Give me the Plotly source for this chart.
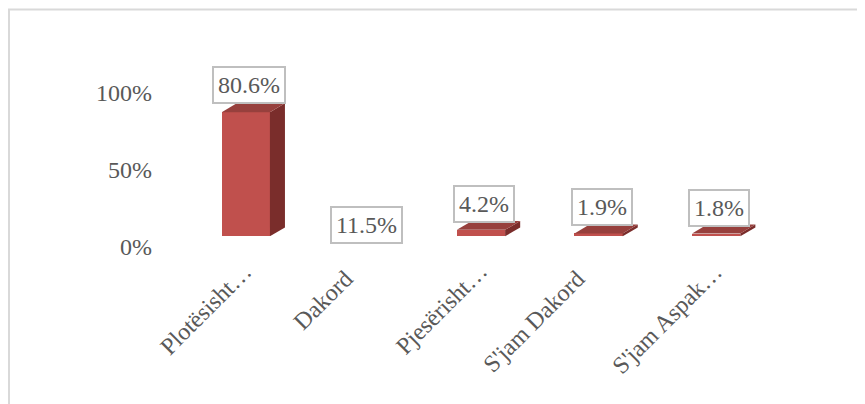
import plotly.graph_objects as go

# data
categories = ["Plotësisht…", "Dakord", "Pjesërisht…", "S'jam Dakord", "S'jam Aspak…"]
shares = [0.806, 0.115, 0.042, 0.019, 0.018]
y_ticks = [0, 0.5, 1.0]

# styling for the fake 3D look
FRONT = "#C0504D"
SIDE = "#7A2D2B"
TOP = "#97403D"
TEXT = "#595959"
FONT = "Liberation Serif"
BAR_W = 0.41
DX, DY = 0.128, 0.058  # depth offset in data units
label_yshift = [8, -25, 7, 7, 7]
# category labels: shift of the rotated label's top-right corner
cat_xshift = [12, -4, 12, -7, 12]
cat_yshift = [-13, -20, -13, -20, -13]

xs = list(range(len(categories)))

fig = go.Figure()
fig.add_trace(go.Bar(x=xs, y=shares, width=BAR_W, marker=dict(color=FRONT, line=dict(width=0)),
                     showlegend=False, hoverinfo="skip"))

for x, v in zip(xs, shares):
    x0, x1 = x - BAR_W / 2, x + BAR_W / 2
    # right side face
    fig.add_trace(go.Scatter(
        x=[x1, x1, x1 + DX, x1 + DX, x1], y=[0, v, v + DY, DY, 0],
        fill="toself", fillcolor=SIDE, mode="lines", line=dict(width=0),
        showlegend=False, hoverinfo="skip"))
    # top face
    fig.add_trace(go.Scatter(
        x=[x0, x1, x1 + DX, x0 + DX, x0], y=[v, v, v + DY, v + DY, v],
        fill="toself", fillcolor=TOP, mode="lines", line=dict(width=0),
        showlegend=False, hoverinfo="skip"))

for x, v, ys in zip(xs, shares, label_yshift):
    fig.add_annotation(
        x=x, y=v, text=f"{v:.1%}", showarrow=False, yanchor="bottom",
        xshift=3, yshift=ys, bgcolor="white", bordercolor="#BFBFBF",
        borderwidth=2, borderpad=4, font=dict(family=FONT, size=24, color=TEXT))

for x, name, dxs, dys in zip(xs, categories, cat_xshift, cat_yshift):
    fig.add_annotation(
        x=x, xref="x", y=0, yref="paper", text=name, textangle=-45, showarrow=False,
        xanchor="right", yanchor="top", xshift=dxs, yshift=dys, borderpad=0,
        font=dict(family=FONT, size=24, color=TEXT))

# outer chart border (top and left visible in the reference)
fig.add_shape(type="rect", xref="paper", yref="paper", x0=-0.3027, x1=1.3, y0=-1.2, y1=1.325,
              line=dict(color="#D9D9D9", width=2), fillcolor="rgba(0,0,0,0)", layer="below")

# page body adds an 8px margin, so the figure is 8px smaller than the window
fig.update_layout(
    width=857, height=396,
    margin=dict(l=179, r=90, t=59, b=160),
    paper_bgcolor="white", plot_bgcolor="white",
    font=dict(family=FONT, size=24, color=TEXT),
    bargap=0,
    xaxis=dict(range=[-0.5, 4.5], showticklabels=False,
               showgrid=False, zeroline=False, showline=False, ticks=""),
    yaxis=dict(range=[-0.05, 1.1], tickvals=y_ticks, tickformat=".0%", showgrid=False,
               zeroline=False, showline=False, ticks="", ticklabelstandoff=34,
               ticklabelshift=10, tickfont=dict(family=FONT, size=24, color=TEXT)),
)

fig.write_html("out.html")
